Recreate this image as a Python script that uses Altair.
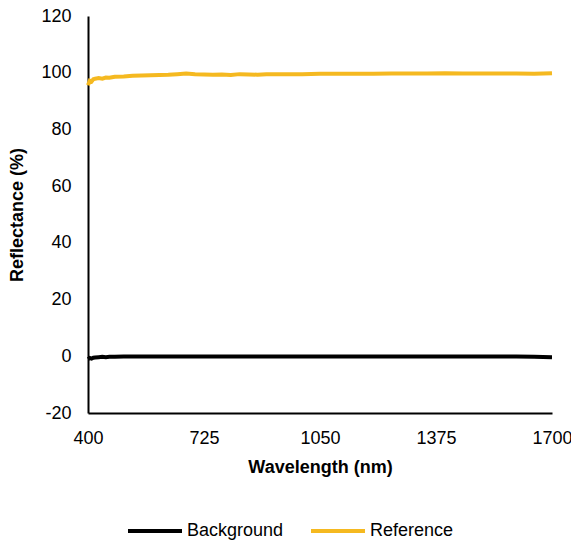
import altair as alt
import pandas as pd

wavelength = [400, 405, 410, 415, 420, 430, 440, 450, 460, 475, 500, 525, 550, 575, 600,
              625, 650, 675, 700, 725, 750, 775, 800, 825, 850, 875, 900, 950, 1000, 1050,
              1100, 1150, 1200, 1250, 1300, 1350, 1400, 1450, 1500, 1550, 1600, 1650, 1700]
background = [-1.0, -0.6, -0.8, -0.5, -0.4, -0.3, -0.2, -0.3, -0.2, -0.2, -0.1, -0.1, -0.1, -0.1, -0.1,
              -0.1, -0.1, -0.1, -0.1, -0.1, -0.1, -0.1, -0.1, -0.1, -0.1, -0.1, -0.1, -0.1, -0.1, -0.1,
              -0.1, -0.1, -0.1, -0.1, -0.1, -0.1, -0.1, -0.1, -0.1, -0.1, -0.1, -0.2, -0.3]
reference = [95.6, 97.2, 96.9, 97.7, 97.9, 98.1, 97.9, 98.3, 98.2, 98.6, 98.7, 98.9, 99.0, 99.1, 99.2,
             99.3, 99.5, 99.7, 99.5, 99.4, 99.3, 99.4, 99.2, 99.5, 99.4, 99.3, 99.5, 99.5, 99.5, 99.6,
             99.6, 99.6, 99.6, 99.7, 99.7, 99.7, 99.8, 99.7, 99.7, 99.7, 99.7, 99.6, 99.8]

x_ticks = [400, 725, 1050, 1375, 1700]
y_ticks = [-20, 0, 20, 40, 60, 80, 100, 120]
series_names = ["Background", "Reference"]
series_colors = ["#000000", "#F5B920"]

rows = []
for w, b, r in zip(wavelength, background, reference):
    rows.append({"Wavelength": w, "Value": b, "Series": "Background"})
    rows.append({"Wavelength": w, "Value": r, "Series": "Reference"})
df = pd.DataFrame(rows)

FONT = "Liberation Sans"

chart = alt.Chart(df).mark_line(strokeWidth=4, strokeCap="butt").encode(
    x=alt.X("Wavelength:Q",
            scale=alt.Scale(domain=[400, 1700], nice=False, zero=False),
            axis=alt.Axis(title="Wavelength (nm)", values=x_ticks,
                          labelExpr="'' + datum.value",
                          grid=False, ticks=False, domainColor="black", domainWidth=2,
                          labelFontSize=18, labelColor="black", labelPadding=16,
                          labelFlush=False, labelOverlap=False,
                          titleFontSize=18, titleFontWeight="bold", titleColor="black",
                          titlePadding=11)),
    y=alt.Y("Value:Q",
            scale=alt.Scale(domain=[-20, 120], nice=False, zero=False),
            axis=alt.Axis(title="Reflectance (%)", values=y_ticks,
                          labelExpr="'' + datum.value",
                          grid=False, ticks=False, domainColor="black", domainWidth=2,
                          labelFontSize=18, labelColor="black", labelPadding=17,
                          labelOverlap=False,
                          titleFontSize=18, titleFontWeight="bold", titleColor="black",
                          titlePadding=14)),
    color=alt.Color("Series:N",
                    scale=alt.Scale(domain=series_names, range=series_colors),
                    legend=alt.Legend(title=None, orient="none", direction="horizontal",
                                      legendX=38, legendY=486,
                                      symbolType="stroke", symbolSize=2916,
                                      symbolStrokeWidth=4, labelFontSize=18,
                                      labelColor="black", columnPadding=19,
                                      labelOffset=3)),
    order=alt.Order("Wavelength:Q"),
).properties(
    width=464, height=397,
    autosize=alt.AutoSizeParams(type="none"),
    padding={"left": 88, "top": 16, "right": 19, "bottom": 128},
).configure(
    font=FONT,
    background="white",
).configure_view(stroke=None)

chart.save("out.html", embed_options={"renderer": "svg", "actions": False})
